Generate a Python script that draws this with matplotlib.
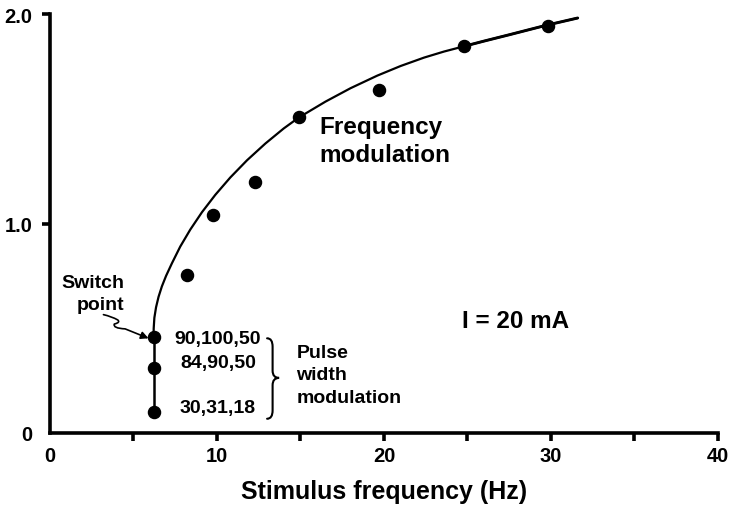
import matplotlib
matplotlib.use("Agg")
import matplotlib.pyplot as plt
from matplotlib.path import Path
from matplotlib.patches import FancyArrowPatch, PathPatch

plt.rcParams['font.family'] = ['Liberation Sans', 'DejaVu Sans']
plt.rcParams['font.weight'] = 'bold'

# Measured points: stimulus frequency (Hz) vs. level
freq = [6.2, 6.2, 6.2, 8.2, 9.75, 12.25, 14.9, 19.7, 24.8, 29.8]
level = [0.10, 0.31, 0.46, 0.755, 1.04, 1.20, 1.51, 1.635, 1.845, 1.945]

# Fitted frequency-modulation curve, starting at the switch point
fit_freq = [6.2, 6.21, 6.25, 6.35, 6.5, 6.7, 6.95, 7.3, 7.8, 8.4, 9.1, 9.9,
            10.8, 11.8, 12.9, 14.0, 14.9, 16.5, 18.0, 19.6, 21.0, 22.4, 23.6,
            24.7, 26.0, 27.5, 29.7, 31.6]
fit_level = [0.46, 0.50, 0.55, 0.60, 0.65, 0.70, 0.75, 0.81, 0.89, 0.971, 1.054, 1.137,
             1.22, 1.302, 1.382, 1.454, 1.506, 1.582, 1.646, 1.706, 1.752, 1.792, 1.821,
             1.844, 1.871, 1.901, 1.946, 1.981]

# Pulse-width modulation segment (below the switch point)
pwm_freq = [6.2, 6.2]
pwm_level = [0.10, 0.46]
pwm_labels = ["90,100,50", "84,90,50", "30,31,18"]
pwm_label_level = [0.452, 0.338, 0.123]

xticks_major = [0, 10, 20, 30, 40]
xticks_minor = [5, 15, 25, 35]
yticks = [0, 1.0, 2.0]
ytick_labels = ["0", "1.0", "2.0"]

fig = plt.figure(figsize=(7.3, 5.06), dpi=100)
ax = fig.add_axes([0.0685, 0.1423, 0.915, 0.828])

ax.plot(fit_freq, fit_level, color='black', lw=1.6, solid_capstyle='round',
        solid_joinstyle='round', zorder=2)
ax.plot(fit_freq[-5:], fit_level[-5:], color='black', lw=2.1, solid_capstyle='round',
        solid_joinstyle='round', zorder=2)
ax.plot(pwm_freq, pwm_level, color='black', lw=1.8, zorder=2)
ax.plot(freq, level, 'o', color='black', markersize=8.7, zorder=3)

ax.set_xlim(0, 40)
ax.set_ylim(0, 2.0)

for side in ('top', 'right'):
    ax.spines[side].set_visible(False)
for side in ('left', 'bottom'):
    ax.spines[side].set_linewidth(2.6)
    ax.spines[side].set_capstyle('projecting')

ax.set_xticks(xticks_major)
ax.set_xticks(xticks_minor, minor=True)
ax.set_xticklabels([str(t) for t in xticks_major])
ax.set_yticks(yticks)
ax.set_yticklabels(ytick_labels)
ax.tick_params(axis='both', which='both', direction='out', length=5.5, width=2.6,
               labelsize=14.5)
ax.tick_params(axis='x', pad=4)
ax.tick_params(axis='y', pad=7)
ax.xaxis.get_major_ticks()[0].tick1line.set_visible(False)
ax.yaxis.get_major_ticks()[0].tick1line.set_visible(False)

ax.set_xlabel("Stimulus frequency (Hz)", fontsize=18, fontweight='bold')
ax.xaxis.label.set_verticalalignment('center')
ax.xaxis.set_label_coords(0.5, -0.138)

# Annotations
ax.text(16.15, 1.462, "Frequency", fontsize=17.5, ha='left', va='center')
ax.text(16.15, 1.33, "modulation", fontsize=17.5, ha='left', va='center')
ax.text(27.9, 0.535, "I = 20 mA", fontsize=17.5, ha='center', va='center')

ax.text(4.45, 0.720, "Switch", fontsize=14, ha='right', va='center')
ax.text(4.45, 0.615, "point", fontsize=14, ha='right', va='center')

for lab, yv in zip(pwm_labels, pwm_label_level):
    ax.text(10.05, yv, lab, fontsize=14, ha='center', va='center')

ax.text(14.75, 0.386, "Pulse", fontsize=14, ha='left', va='center')
ax.text(14.75, 0.277, "width", fontsize=14, ha='left', va='center')
ax.text(14.75, 0.170, "modulation", fontsize=14, ha='left', va='center')

# Curly brace grouping the pulse-width labels
xl, xm, xt = 13.0, 13.33, 13.72
top, mid, bot = 0.452, 0.263, 0.068
brace_verts = [(xl, top), (xm, top), (xm, top - 0.04),
               (xm, mid + 0.035),
               (xm, mid), (xt, mid),
               (xm, mid), (xm, mid - 0.035),
               (xm, bot + 0.04),
               (xm, bot), (xl, bot)]
brace_codes = [Path.MOVETO, Path.CURVE3, Path.CURVE3,
               Path.LINETO,
               Path.CURVE3, Path.CURVE3,
               Path.CURVE3, Path.CURVE3,
               Path.LINETO,
               Path.CURVE3, Path.CURVE3]
ax.add_patch(PathPatch(Path(brace_verts, brace_codes), fill=False, lw=1.5,
                       edgecolor='black', capstyle='round'))

# Wavy arrow pointing at the switch point
arrow_verts = [(3.2, 0.565), (3.7, 0.556), (4.05, 0.540),
               (4.25, 0.528), (3.85, 0.520),
               (3.75, 0.500), (4.5, 0.497),
               (5.9, 0.452)]
arrow_codes = [Path.MOVETO, Path.CURVE3, Path.CURVE3,
               Path.CURVE3, Path.CURVE3,
               Path.CURVE3, Path.CURVE3,
               Path.LINETO]
ax.add_patch(FancyArrowPatch(path=Path(arrow_verts, arrow_codes), arrowstyle='-|>',
                             mutation_scale=11, lw=1.2, color='black',
                             shrinkA=0, shrinkB=0))

fig.savefig("out.png", dpi=100)
